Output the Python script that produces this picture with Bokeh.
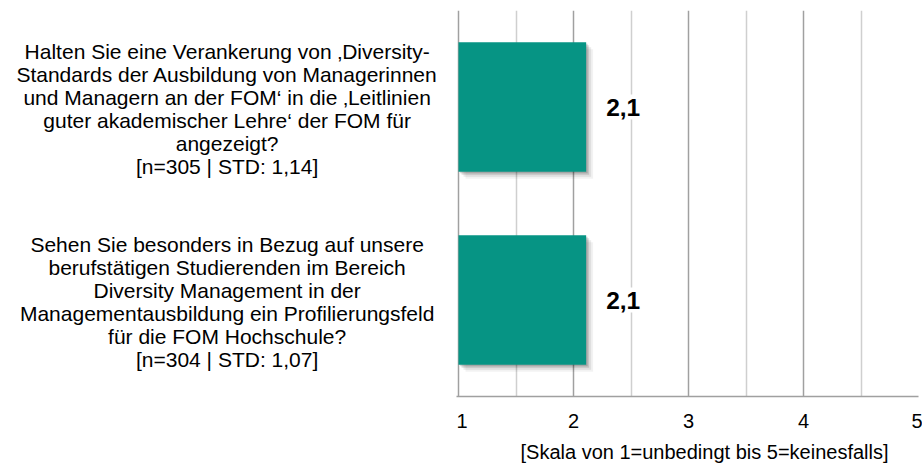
from bokeh.plotting import figure
from bokeh.layouts import row
from bokeh.models import ColumnDataSource, FactorRange, FixedTicker, Title
from bokeh.transform import dodge
from bokeh.core.properties import value
from bokeh.embed import file_html
from bokeh.resources import INLINE

# ---- data ----
questions = [
    "Halten Sie eine Verankerung von \u201aDiversity-\nStandards der Ausbildung von Managerinnen\nund Managern an der FOM\u2018 in die \u201aLeitlinien\nguter akademischer Lehre\u2018 der FOM f\u00fcr\nangezeigt?",
    "Sehen Sie besonders in Bezug auf unsere\nberufst\u00e4tigen Studierenden im Bereich\nDiversity Management in der\nManagementausbildung ein Profilierungsfeld\nf\u00fcr die FOM Hochschule?",
]
keys = ["Q1", "Q2"]
n_values = [305, 304]
std_values = [1.14, 1.07]
means = [2.11, 2.11]
x_ticks = [1, 2, 3, 4, 5]
x_minor = [1.5, 2.5, 3.5, 4.5]
axis_title = "[Skala von 1=unbedingt bis 5=keinesfalls]"

labels = [f"{q}\n[n={n} | STD: {('%.2f' % s).replace('.', ',')}]"
          for q, n, s in zip(questions, n_values, std_values)]
value_labels = [("%.1f" % m).replace(".", ",") for m in means]

src = ColumnDataSource(dict(key=keys, mean=means, lab=labels, vlab=value_labels,
                            left=[1] * len(means)))

FONT = "Liberation Sans"
y_range = FactorRange(factors=list(reversed(keys)))

H = 476
TOP = 10
BOT = 80
PXU = 115.0  # approx pixels per unit, used only for shadow offsets

# ---- left figure: question texts ----
pl = figure(width=456, height=H, y_range=y_range, x_range=(0, 1),
            x_axis_location=None, y_axis_location=None, toolbar_location=None,
            output_backend="svg", min_border_left=0, min_border_right=0,
            min_border_top=TOP, min_border_bottom=BOT, outline_line_color=None)
pl.xgrid.visible = False
pl.ygrid.visible = False
pl.text(x=0.497, y="key", text="lab", source=src, text_align="center",
        text_baseline="middle", text_font=value(FONT), text_font_size="21px",
        text_line_height=1.0, text_color="#000000", y_offset=2)

# ---- right figure: bars ----
p = figure(width=466, height=H, y_range=y_range, x_range=(0.9826, 5),
           y_axis_location=None, toolbar_location=None, output_backend="svg",
           min_border_left=0, min_border_right=4, min_border_top=TOP,
           min_border_bottom=BOT, outline_line_color=None)

# soft drop shadow layers
for off, a in [(7, 0.05), (5, 0.08), (3, 0.12), (1.5, 0.15)]:
    p.hbar(y=dodge("key", -off / 193.0, range=y_range), left=1 + off / PXU,
           right=dodge("mean", off / PXU), height=0.67, source=src,
           fill_color="#000000", fill_alpha=a, line_color=None)
p.hbar(y="key", left="left", right="mean", height=0.67, source=src,
       fill_color="#069484", line_color=None)

p.text(x="mean", y="key", text="vlab", source=src, x_offset=16,
       text_align="left", text_baseline="middle", text_font=value(FONT),
       text_font_size="24.5px", text_font_style="bold", text_color="#000000",
       background_fill_color="white", padding=4)

ticker = FixedTicker(ticks=x_ticks, minor_ticks=x_minor)
p.xaxis.ticker = ticker
p.xgrid.ticker = ticker
p.xgrid.grid_line_color = "#A0A0A0"
p.xgrid.grid_line_width = 1.5
p.xgrid.minor_grid_line_color = "#CFCFCF"
p.xgrid.minor_grid_line_width = 1.5
p.ygrid.visible = False
p.xgrid.level = "underlay"

ax = p.xaxis[0]
ax.axis_line_color = "#A0A0A0"
ax.axis_line_width = 1.5
ax.major_tick_line_color = None
ax.minor_tick_line_color = None
ax.major_tick_out = 0
ax.major_tick_in = 0
ax.minor_tick_out = 0
ax.minor_tick_in = 0
ax.major_label_standoff = 17
ax.major_label_text_font = FONT
ax.major_label_text_font_size = "20px"
ax.major_label_text_color = "#000000"

# axis title (slightly right of frame centre, as in the original)
p.add_layout(Title(text=axis_title, align="left", offset=64, standoff=16,
                   text_font=FONT, text_font_size="20px",
                   text_font_style="normal", text_color="#000000"), "below")

layout = row(pl, p)
open("out.html", "w").write(file_html(layout, INLINE))
